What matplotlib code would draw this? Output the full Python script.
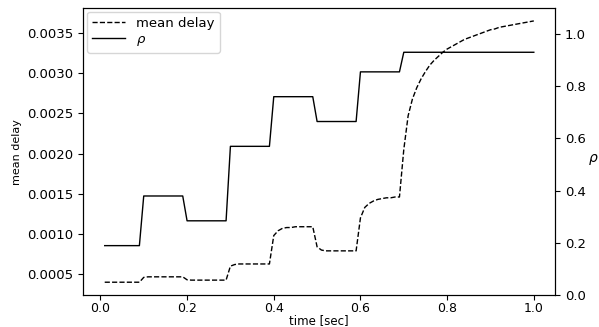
import numpy as np
import matplotlib
matplotlib.use("Agg")
import matplotlib.pyplot as plt

# sample times [sec]
t = np.round(np.arange(1, 101) * 0.01, 2)

# load level per 0.1 s interval and how many samples each lasts
rho_levels = [0.19, 0.38, 0.285, 0.57, 0.76, 0.665, 0.855, 0.93]
rho_counts = [9, 10, 10, 10, 10, 10, 10, 31]
rho = np.repeat(rho_levels, rho_counts)

mean_delay = [
    0.00040, 0.00040, 0.00040, 0.00040, 0.00040, 0.00040, 0.00040, 0.00040, 0.00040, 0.00046,
    0.000467, 0.000467, 0.000467, 0.000467, 0.000467, 0.000467, 0.000467, 0.000467, 0.000467, 0.00043,
    0.000426, 0.000426, 0.000426, 0.000426, 0.000426, 0.000426, 0.000426, 0.000426, 0.000426, 0.00060,
    0.00062, 0.000627, 0.000627, 0.000627, 0.000627, 0.000627, 0.000627, 0.000627, 0.000627, 0.00098,
    0.00104, 0.00107, 0.00108, 0.00108, 0.00109, 0.00109, 0.00109, 0.00109, 0.00109, 0.00084,
    0.00080, 0.00079, 0.00079, 0.00079, 0.00079, 0.00079, 0.00079, 0.00079, 0.00079, 0.00120,
    0.00133, 0.00138, 0.00141, 0.00143, 0.00144, 0.00145, 0.00145, 0.00146, 0.00146, 0.00205,
    0.00247, 0.00268, 0.00282, 0.00293, 0.00302, 0.00310, 0.00316, 0.00321, 0.00326, 0.00330,
    0.00333, 0.00336, 0.00339, 0.00342, 0.00344, 0.00346, 0.00348, 0.00350, 0.00352, 0.00354,
    0.00355, 0.00357, 0.00358, 0.00359, 0.00360, 0.00361, 0.00362, 0.00363, 0.00364, 0.00365,
]

fig, ax = plt.subplots(figsize=(5.99, 3.27), dpi=100)
fig.subplots_adjust(left=0.139, right=0.927, top=0.976, bottom=0.097)

l1, = ax.plot(t, mean_delay, "k--", lw=1, label="mean delay")
ax.set_xlabel("time [sec]", fontsize=8.5, labelpad=-0.5)
ax.set_ylabel("mean delay", fontsize=8, labelpad=4)
ax.set_xticks([0.0, 0.2, 0.4, 0.6, 0.8, 1.0])
ax.tick_params(labelsize=9.5)
ax.tick_params(axis="x", labelsize=9, pad=1)

ax2 = ax.twinx()
l2, = ax2.plot(t, rho, "k-", lw=1, label=r"$\rho$")
ax2.set_ylim(0, 1.1)
ax2.set_ylabel(r"$\rho$", fontsize=10, rotation=0, labelpad=5)
ax2.tick_params(labelsize=9.5)

ax.legend(handles=[l1, l2], loc="upper left", fontsize=9.5,
          borderaxespad=0.3, handlelength=2.5, labelspacing=0.2)

fig.savefig("out.png", dpi=100)
